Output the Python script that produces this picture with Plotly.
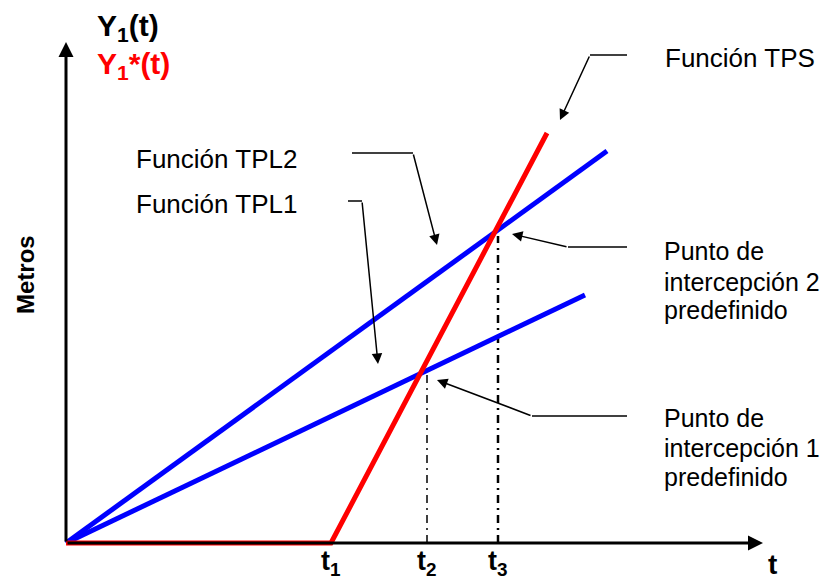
import plotly.graph_objects as go

# Data (time units on x, metres on y)
tps_x = [0, 26.5, 48.1]
tps_y = [0, 0, 41.0]
tpl2_x = [0, 54.1]
tpl2_y = [0, 39.2]
tpl1_x = [0, 51.9]
tpl1_y = [0, 24.8]

t_ticks = [26.5, 36.1, 43.2]
t_labels = ["t<sub>1</sub>", "t<sub>2</sub>", "t<sub>3</sub>"]
t_drop_tops = [17.1, 30.7]  # tops of the dash-dot drop lines for t2, t3
t_drop_widths = [1.5, 2.5]

fig = go.Figure()

BLUE = "#0000FF"
RED = "#FF0000"

# drop lines
for xv, top, w in zip(t_ticks[1:], t_drop_tops, t_drop_widths):
    fig.add_trace(go.Scatter(x=[xv, xv], y=[0, top], mode="lines",
                             line=dict(color="black", width=w, dash="8px,5px,2px,5px"),
                             hoverinfo="skip", showlegend=False))

fig.add_trace(go.Scatter(x=tpl2_x, y=tpl2_y, mode="lines", line=dict(color=BLUE, width=5),
                         showlegend=False))
fig.add_trace(go.Scatter(x=tpl1_x, y=tpl1_y, mode="lines", line=dict(color=BLUE, width=5),
                         showlegend=False))
fig.add_trace(go.Scatter(x=tps_x, y=tps_y, mode="lines", line=dict(color=RED, width=5),
                         showlegend=False))

ann = []
# axes with arrowheads
ann.append(dict(x=0, y=50.1, ax=0, ay=0, xref="x", yref="y", axref="x", ayref="y",
                text="", showarrow=True, arrowhead=2, arrowsize=1, arrowwidth=3,
                arrowcolor="black", standoff=0, startstandoff=0))
ann.append(dict(x=69.7, y=0, ax=0, ay=0, xref="x", yref="y", axref="x", ayref="y",
                text="", showarrow=True, arrowhead=2, arrowsize=1, arrowwidth=3,
                arrowcolor="black", standoff=0, startstandoff=0))

# leader polylines: last point is the arrow tip
leaders = [
    [(56.1, 48.8), (52.4, 48.8), (49.4, 42.3)],   # Funcion TPS
    [(28.6, 39.0), (34.7, 39.0), (37.1, 29.8)],   # TPL2
    [(28.2, 34.2), (29.6, 34.2), (31.2, 17.9)],   # TPL1
    [(56.1, 29.6), (50.2, 29.6), (44.6, 30.9)],   # Punto 2
    [(56.1, 12.7), (46.6, 12.7), (37.1, 16.3)],   # Punto 1
]
for pts in leaders:
    xs = [p[0] for p in pts[:-1]]
    ys = [p[1] for p in pts[:-1]]
    fig.add_trace(go.Scatter(x=xs, y=ys, mode="lines", line=dict(color="black", width=1.5),
                             hoverinfo="skip", showlegend=False))
    ann.append(dict(x=pts[-1][0], y=pts[-1][1], ax=pts[-2][0], ay=pts[-2][1],
                    xref="x", yref="y", axref="x", ayref="y", text="", showarrow=True,
                    arrowhead=2, arrowsize=1.4, arrowwidth=1.5, arrowcolor="black",
                    standoff=0, startstandoff=0))

FONT = "Liberation Sans, Arial, sans-serif"
txt = [
    ("Función TPS", 59.7, 48.5, 26),
    ("Función TPL2", 6.8, 38.4, 26),
    ("Función TPL1", 6.8, 33.9, 26),
    ("Punto de", 59.6, 29.2, 25),
    ("intercepción 2", 59.6, 26.1, 25),
    ("predefinido", 59.6, 23.3, 25),
    ("Punto de", 59.6, 12.5, 25),
    ("intercepción 1", 59.6, 9.5, 25),
    ("predefinido", 59.6, 6.6, 25),
]
for t, xv, yv, sz in txt:
    ann.append(dict(x=xv, y=yv, xref="x", yref="y", text=t, showarrow=False,
                    xanchor="left", yanchor="middle", align="left",
                    font=dict(family=FONT, size=sz, color="black")))

ann.append(dict(x=2.9, y=51.6, xref="x", yref="y", text="<b>Y<sub>1</sub>(t)</b>",
                showarrow=False, xanchor="left", yanchor="middle",
                font=dict(family=FONT, size=30, color="black")))
ann.append(dict(x=2.9, y=47.8, xref="x", yref="y", text="<b>Y<sub>1</sub>*(t)</b>",
                showarrow=False, xanchor="left", yanchor="middle",
                font=dict(family=FONT, size=30, color=RED)))
ann.append(dict(x=-4.1, y=26.8, xref="x", yref="y", text="<b>Metros</b>", textangle=-90,
                showarrow=False, xanchor="center", yanchor="middle",
                font=dict(family=FONT, size=24, color="black")))
for xv, lab in zip(t_ticks, t_labels):
    ann.append(dict(x=xv, y=-1.95, xref="x", yref="y", text="<b>" + lab + "</b>",
                    showarrow=False, xanchor="center", yanchor="middle",
                    font=dict(family=FONT, size=27, color="black")))
ann.append(dict(x=70.6, y=-2.1, xref="x", yref="y", text="<b>t</b>",
                showarrow=False, xanchor="center", yanchor="middle",
                font=dict(family=FONT, size=28, color="black")))

# page body has an 8px margin, so the figure is 8px smaller and its ranges start 8px later
fig.update_layout(
    width=824, height=573,
    margin=dict(l=0, r=0, t=0, b=0),
    paper_bgcolor="white", plot_bgcolor="white",
    xaxis=dict(range=[-5.8, 76.6], visible=False, fixedrange=True),
    yaxis=dict(range=[-3.8, 53.5], visible=False, fixedrange=True),
    annotations=ann,
    showlegend=False,
)

fig.write_html("out.html")
